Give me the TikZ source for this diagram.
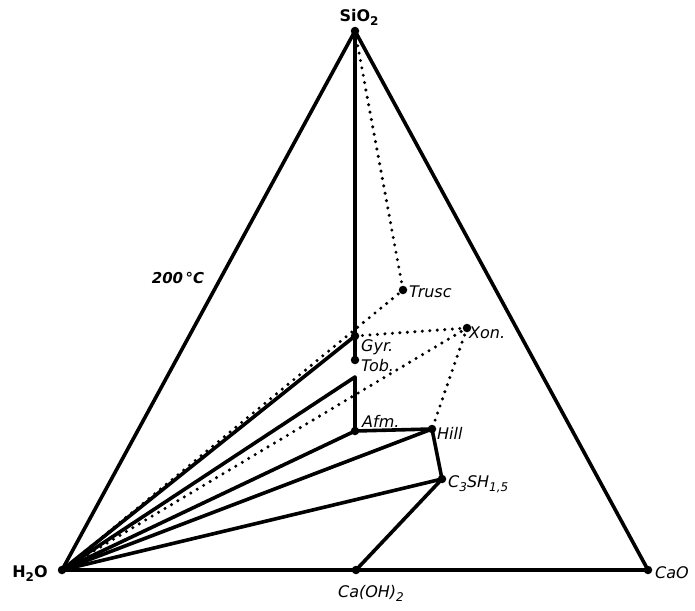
\documentclass[tikz,border=0pt]{standalone}
\usepackage{fontspec}
\newfontfamily\labfont{DejaVu Sans}
\newcommand\sbs[1]{\raisebox{-0.45ex}{\fontsize{12}{12}\selectfont #1}}
\begin{document}
\begin{tikzpicture}[x=1pt,y=-1pt,
  solidline/.style={line width=3.6pt, line cap=round, line join=round},
  dotline/.style={line width=3.4pt, line cap=round, dash pattern=on 0pt off 7.5pt},
  lab/.style={font=\labfont\fontsize{16}{16}\selectfont\itshape, inner sep=0pt},
  blab/.style={font=\labfont\fontsize{16}{16}\selectfont\bfseries, inner sep=0pt},
  pt/.style={circle, fill=black, inner sep=0pt, minimum size=8.5pt}]
\useasboundingbox (0,0) rectangle (695,610);
% points
\coordinate (S) at (355,31);
\coordinate (W) at (62,570);
\coordinate (C) at (648,570);
\coordinate (CH) at (356,570);
\coordinate (Tr) at (403,290);
\coordinate (Xo) at (467,328);
\coordinate (Gy) at (355,336);
\coordinate (To) at (355,360);
\coordinate (P) at (355,377);
\coordinate (Af) at (355,431);
\coordinate (Hi) at (432,429);
\coordinate (C3) at (442,479);
% dotted tie lines
\draw[dotline] (S) -- (Tr);
\draw[dotline] (W) -- (Tr);
\draw[dotline] (Gy) -- (Xo);
\draw[dotline] (W) -- (Xo);
\draw[dotline] (Xo) -- (Hi);
% triangle
\draw[solidline] (W) -- (S) -- (C) -- cycle;
% solid tie lines
\draw[solidline] (S) -- (To);
\draw[solidline] (P) -- (Af) -- (Hi) -- (C3) -- (CH);
\draw[solidline] (W) -- (Gy);
\draw[solidline] (W) -- (P);
\draw[solidline] (W) -- (Af);
\draw[solidline] (W) -- (Hi);
\draw[solidline] (W) -- (C3);
% dots
\foreach \p in {Tr,Xo,Gy,To,Af,Hi,C3,CH,W,S,C}
  \node[pt] (d\p) at (\p) {};
% labels
\node[blab] (lS) at (359,17) {SiO\sbs{2}};
\node[blab] (lW) at (30,574) {H\sbs{2}O};
\node[lab, anchor=west] (lC) at (655,573) {CaO};
\node[lab] (lCH) at (371,593) {Ca(OH)\sbs{2}};
\node[blab, font=\labfont\fontsize{15}{15}\selectfont\bfseries\itshape] (lT) at (178,278) {200\,°C};
\node[lab, anchor=west] (lTr) at (409,292) {Trusc};
\node[lab, anchor=west] (lXo) at (469,333) {Xon.};
\node[lab, anchor=west] (lGy) at (361,347) {Gyr.};
\node[lab, anchor=west] (lTo) at (361,366) {Tob.};
\node[lab, anchor=west] (lAf) at (362,421) {Afm.};
\node[lab, anchor=west] (lHi) at (437,433) {Hill};
\node[lab, anchor=west] (lC3) at (448,484) {C\sbs{3}SH\sbs{1,5}};
\end{tikzpicture}
\end{document}
